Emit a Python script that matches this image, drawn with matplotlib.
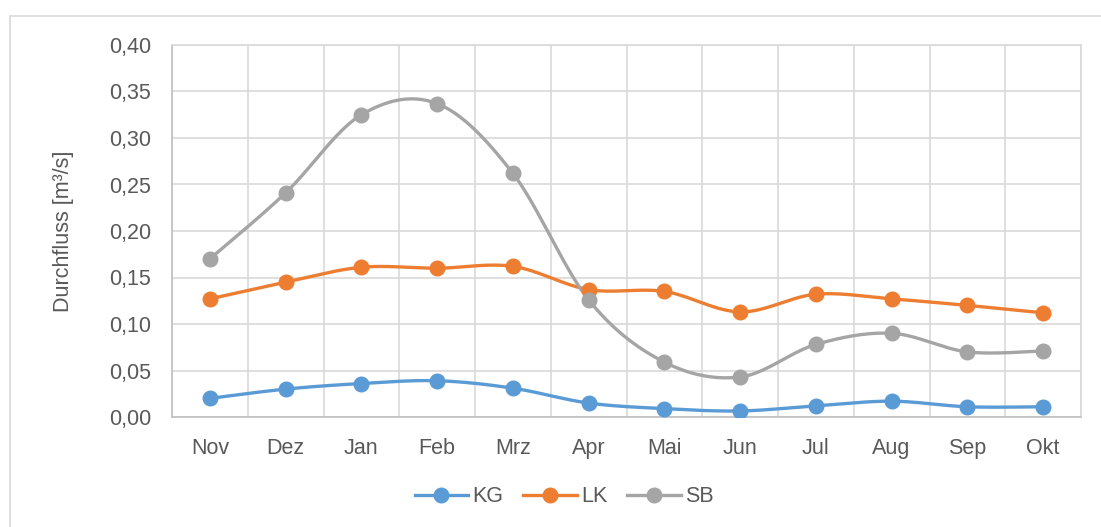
import numpy as np
import matplotlib
matplotlib.use("Agg")
import matplotlib.pyplot as plt
from matplotlib.patches import Rectangle
from matplotlib.ticker import FuncFormatter

# monthly mean discharge per gauge
months = ["Nov", "Dez", "Jan", "Feb", "Mrz", "Apr", "Mai", "Jun", "Jul", "Aug", "Sep", "Okt"]
kg = [0.020, 0.030, 0.036, 0.039, 0.031, 0.015, 0.009, 0.0065, 0.012, 0.017, 0.011, 0.011]
lk = [0.127, 0.145, 0.161, 0.160, 0.162, 0.137, 0.135, 0.113, 0.132, 0.127, 0.120, 0.112]
sb = [0.170, 0.241, 0.325, 0.337, 0.262, 0.126, 0.059, 0.043, 0.078, 0.090, 0.070, 0.071]

series = [("KG", kg, "#5B9BD5"), ("LK", lk, "#ED7D31"), ("SB", sb, "#A5A5A5")]

plt.rcParams["font.family"] = ["Liberation Sans Narrow", "Liberation Sans", "DejaVu Sans"]
txt = "#595959"


def smooth(x, y, n=30):
    # Catmull-Rom style bezier smoothing like spreadsheet "smoothed line"
    x = np.asarray(x, float)
    y = np.asarray(y, float)
    px = np.concatenate([[x[0]], x, [x[-1]]])
    py = np.concatenate([[y[0]], y, [y[-1]]])
    xs, ys = [], []
    t = np.linspace(0, 1, n)
    for i in range(1, len(px) - 2):
        p0 = np.array([px[i], py[i]])
        p3 = np.array([px[i + 1], py[i + 1]])
        c1 = p0 + (np.array([px[i + 1], py[i + 1]]) - np.array([px[i - 1], py[i - 1]])) / 6
        c2 = p3 - (np.array([px[i + 2], py[i + 2]]) - np.array([px[i], py[i]])) / 6
        b = ((1 - t) ** 3)[:, None] * p0 + (3 * (1 - t) ** 2 * t)[:, None] * c1 \
            + (3 * (1 - t) * t ** 2)[:, None] * c2 + (t ** 3)[:, None] * p3
        xs.extend(b[:, 0])
        ys.extend(b[:, 1])
    return np.array(xs), np.array(ys)


fig = plt.figure(figsize=(11.01, 5.27), dpi=100)
ax = fig.add_axes([172 / 1101, 1 - 417 / 527, (1081 - 172) / 1101, (417 - 45) / 527])

# chart border
fig.patches.append(Rectangle((10 / 1101, -0.1), 1.2, 1 - 16 / 527 + 0.1,
                             transform=fig.transFigure, fill=False,
                             edgecolor="#D9D9D9", linewidth=1.2))

x = np.arange(len(months))
handles = []
for name, vals, col in series:
    sx, sy = smooth(x, vals)
    ax.plot(sx, sy, color=col, linewidth=2.4, solid_capstyle="round", zorder=3)
    ax.plot(x, vals, "o", color=col, markersize=10.5, zorder=4)
    h, = ax.plot([], [], "-o", color=col, linewidth=2.4, markersize=10.5, label=name)
    handles.append(h)

ax.set_xlim(-0.5, len(months) - 0.5)
ax.set_ylim(0, 0.40)
ax.set_yticks(np.arange(0, 0.401, 0.05))
ax.yaxis.set_major_formatter(FuncFormatter(lambda v, p: f"{v:.2f}".replace(".", ",")))
ax.set_xticks(x)
ax.set_xticklabels(months)
ax.set_xticks(np.arange(-0.5, len(months), 1), minor=True)

ax.grid(True, which="major", axis="y", color="#D9D9D9", linewidth=1.2)
ax.grid(True, which="minor", axis="x", color="#D9D9D9", linewidth=1.2)
ax.set_axisbelow(True)
for s in ax.spines.values():
    s.set_color("#D9D9D9")
    s.set_linewidth(1.2)
ax.spines["left"].set_color("#BFBFBF")
ax.spines["bottom"].set_color("#BFBFBF")
ax.tick_params(which="both", length=0, labelsize=15.5, colors=txt)
ax.tick_params(axis="x", pad=15)
ax.tick_params(axis="y", pad=15)

ax.set_ylabel("Durchfluss [m³/s]", fontsize=15.5, color=txt)
ax.yaxis.set_label_coords((74 - 172) / 909, 0.5)

fig.legend(handles=handles, loc="center", bbox_to_anchor=(564 / 1101, 1 - 497 / 527),
           ncol=3, frameon=False, fontsize=15.5, labelcolor=txt,
           handlelength=2.5, handletextpad=0.2, columnspacing=0.9)

fig.savefig("out.png", dpi=100)
